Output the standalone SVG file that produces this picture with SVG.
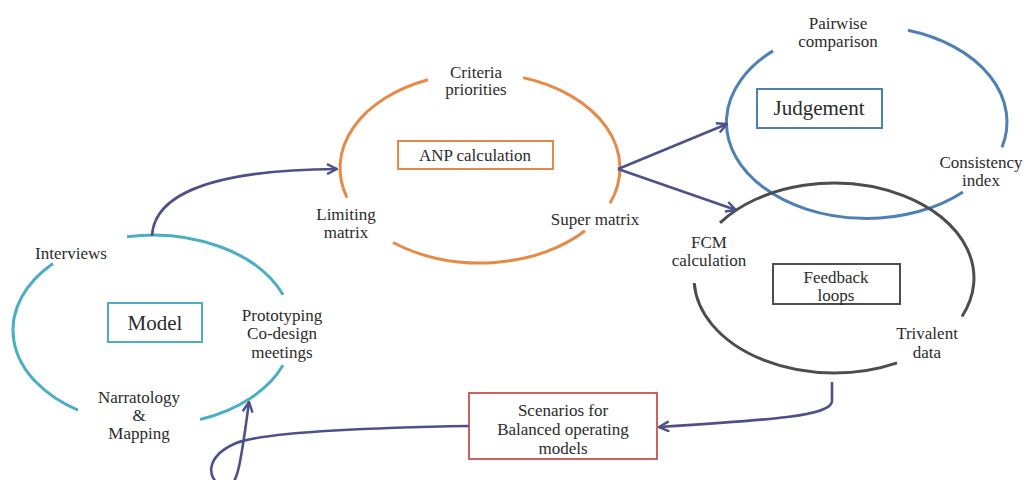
<svg xmlns="http://www.w3.org/2000/svg" width="1029" height="480" viewBox="0 0 1029 480">
<style>
text{font-family:"Liberation Serif","DejaVu Serif","Times New Roman",serif;font-size:17px;fill:#2b2b2b;text-anchor:middle}
.big{font-size:21px}
.arc{fill:none;stroke-width:3;stroke-linecap:butt}
.box{fill:#fff;stroke-width:2}
.teal{stroke:#4aaec4}.orange{stroke:#e58a47}.blue{stroke:#4f80b4}.gray{stroke:#4d4d4d}.red{stroke:#d06161}
.con{fill:none;stroke:#4d5189;stroke-width:2.6;marker-end:url(#ah)}
</style>
<defs>
<marker id="ah" viewBox="0 0 12 12" refX="11" refY="6" markerWidth="12" markerHeight="12" markerUnits="userSpaceOnUse" orient="auto">
<path d="M1,1 L11,6 L1,11" fill="none" stroke="#4d5189" stroke-width="2.4"/>
</marker>
</defs>
<rect width="1029" height="480" fill="#fff"/>
<g font-family="Liberation Serif, DejaVu Serif, serif">
<g id="model">
<path class="arc teal" d="M127,236.7 A140,95 0 0 1 283,294.7"/>
<path class="arc teal" d="M53,263.5 A140,95 0 0 0 78,410.2"/>
<path class="arc teal" d="M283,365.3 A140,95 0 0 1 200,419.5"/>
<rect class="box teal" x="108" y="303" width="94" height="39"/>
<text class="big" x="155" y="330">Model</text>
<text x="71" y="259">Interviews</text>
<text x="282" y="321">Prototyping</text>
<text x="282" y="339">Co-design</text>
<text x="282" y="358">meetings</text>
<text x="139" y="403">Narratology</text>
<text x="139" y="421">&amp;</text>
<text x="139" y="439">Mapping</text>
</g>
<g id="anp">
<path class="arc orange" d="M428,79.8 A140,95 0 0 0 347,197.6"/>
<path class="arc orange" d="M523,77.6 A140,95 0 0 1 610,203.2"/>
<path class="arc orange" d="M585,230.8 A140,95 0 0 1 393,242.5"/>
<rect class="box orange" x="398" y="141" width="155" height="28"/>
<text x="475" y="161">ANP calculation</text>
<text x="476" y="78">Criteria</text>
<text x="476" y="95">priorities</text>
<text x="346" y="220">Limiting</text>
<text x="346" y="238">matrix</text>
<text x="595" y="225">Super matrix</text>
</g>
<g id="judgement">
<path class="arc blue" d="M773,50.9 A140,96 0 1 0 963,191.9"/>
<path class="arc blue" d="M908,30.2 A140,96 0 0 1 1002,147.4"/>
<rect class="box blue" x="757" y="89" width="125" height="39"/>
<text class="big" x="819" y="115">Judgement</text>
<text x="838" y="29">Pairwise</text>
<text x="838" y="47">comparison</text>
<text x="981" y="168">Consistency</text>
<text x="981" y="186">index</text>
</g>
<g id="fcm">
<path class="arc gray" d="M720,222.9 A140,95 0 0 1 962,316.5"/>
<path class="arc gray" d="M694.2,283 A140,95 0 0 0 897,362.8"/>
<rect class="box gray" x="773" y="264" width="127" height="40"/>
<text x="836" y="283">Feedback</text>
<text x="836" y="301">loops</text>
<text x="709" y="248">FCM</text>
<text x="709" y="266">calculation</text>
<text x="927" y="339">Trivalent</text>
<text x="927" y="358">data</text>
</g>
<g id="scenarios">
<rect class="box red" x="469" y="393" width="188" height="66"/>
<text x="563" y="416">Scenarios for</text>
<text x="563" y="435">Balanced operating</text>
<text x="563" y="454">models</text>
</g>
</g>
<g id="connectors">
<path class="con" d="M152,236 C154,195 210,170 337,169"/>
<path class="con" d="M618,169 L727,124"/>
<path class="con" d="M618,169 L736,210"/>
<path class="con" d="M832,382 L832,401 C832,416 770,420 659,427"/>
<path class="con" d="M469,426 C350,428 258,433 234,444 C206,457 206,478 222,486 C238,494 241,460 249,402"/>
</g>
</svg>
